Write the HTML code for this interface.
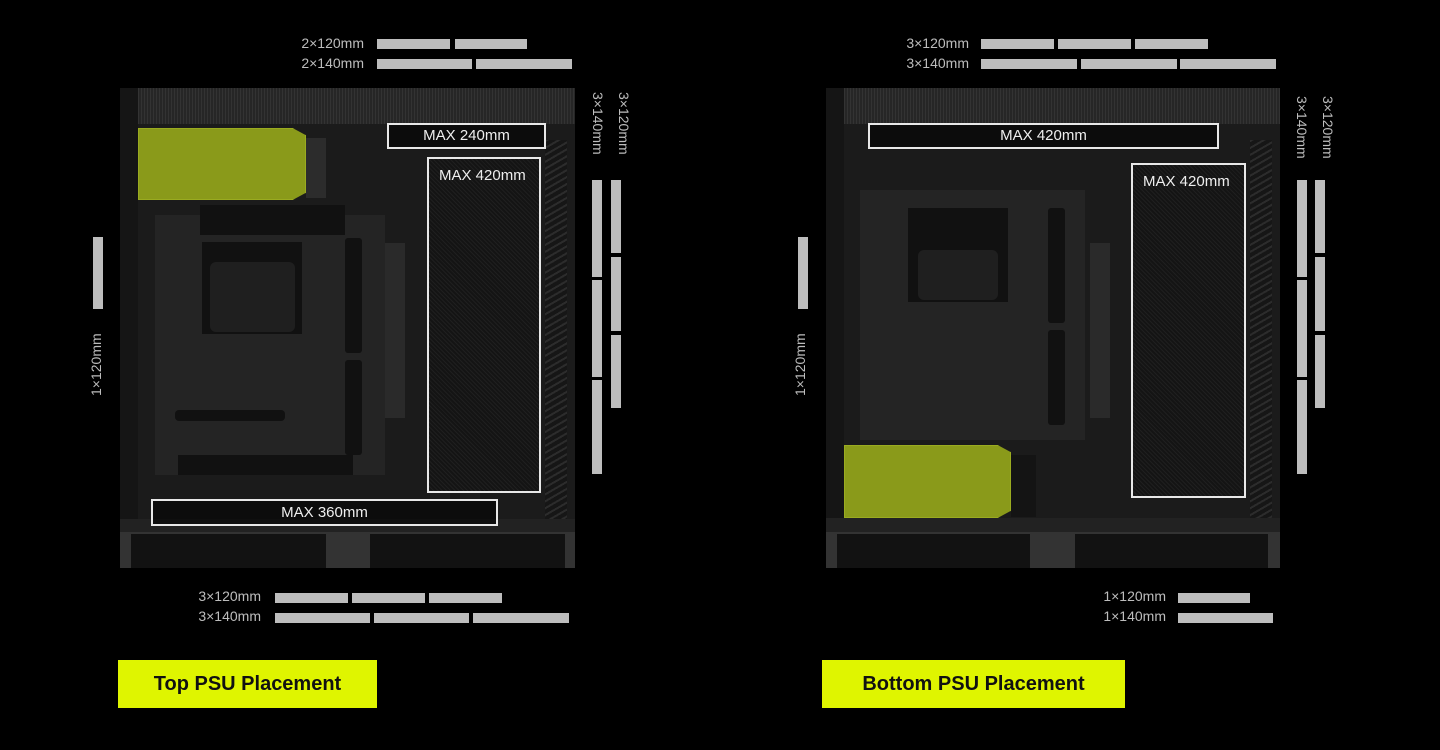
<!DOCTYPE html>
<html><head><meta charset="utf-8"><style>
*{margin:0;padding:0;box-sizing:border-box}
body{width:1440px;height:750px;background:#000;position:relative;overflow:hidden;font-family:"Liberation Sans",sans-serif}
div{position:absolute}
.bar{background:#bdbdbd}
.lbl{color:#bdbdbd;font-size:14px;line-height:16px;white-space:nowrap}
.rl{transform-origin:0 0;transform:rotate(90deg)}
.rr{transform-origin:0 0;transform:rotate(-90deg)}
.box{border:2px solid #e8e8e8;color:#eee;font-size:15px;text-align:center;background:rgba(0,0,0,.55)}
.btn{background:#dff500;color:#111;font-weight:bold;font-size:20px;text-align:center;line-height:48px}
.case{background:#1b1b1b}
.mesh{background:#2b2b2b;background-image:repeating-linear-gradient(90deg,#333 0 1px,#262626 1px 3px)}
.dark{background:#111}
.panel{background:#242424}
.psu{background:#8a9a1a;border:1px solid #9aab20}
.foot{background:#333}
.fan{background:#121212}
.vm{background:#161616;background-image:repeating-linear-gradient(45deg,#1f1f1f 0 1px,#141414 1px 3px)}
</style></head><body>

<!-- LEFT CASE -->
<div class="case" style="left:120px;top:88px;width:455px;height:445px"></div>
<div class="mesh" style="left:138px;top:88px;width:437px;height:36px"></div>
<div class="dark" style="left:120px;top:88px;width:18px;height:445px;background:#151515"></div>
<div class="panel" style="left:155px;top:215px;width:230px;height:260px"></div>
<div class="dark" style="left:202px;top:242px;width:100px;height:92px"></div>
<div style="left:210px;top:262px;width:85px;height:70px;background:#1f1f1f;border-radius:6px"></div>
<div class="dark" style="left:175px;top:410px;width:110px;height:11px;border-radius:4px"></div>
<div class="dark" style="left:178px;top:455px;width:175px;height:20px"></div>
<div class="dark" style="left:200px;top:205px;width:145px;height:30px"></div>
<div class="dark" style="left:345px;top:238px;width:17px;height:115px;border-radius:3px"></div>
<div class="dark" style="left:345px;top:360px;width:17px;height:95px;border-radius:3px"></div>
<div style="left:385px;top:243px;width:20px;height:175px;background:#2a2a2a"></div>
<div class="vm" style="left:427px;top:157px;width:114px;height:336px"></div>
<div style="left:545px;top:140px;width:22px;height:380px;background:repeating-linear-gradient(150deg,#2c2c2c 0 2px,#161616 2px 6px)"></div>
<div class="psu" style="left:138px;top:128px;width:168px;height:72px;clip-path:polygon(0 0,92% 0,100% 10%,100% 90%,92% 100%,0 100%)"></div>
<div style="left:306px;top:138px;width:20px;height:60px;background:#2c2c2c"></div>
<div style="left:120px;top:519px;width:455px;height:13px;background:#222"></div>
<div class="foot" style="left:120px;top:532px;width:455px;height:36px"></div>
<div class="fan" style="left:131px;top:534px;width:195px;height:34px"></div>
<div class="fan" style="left:370px;top:534px;width:195px;height:34px"></div>

<div class="box" style="left:387px;top:123px;width:159px;height:26px;line-height:22px">MAX 240mm</div>
<div class="box" style="left:427px;top:157px;width:114px;height:336px;background:transparent;text-align:left;padding:8px 0 0 10px;line-height:18px">MAX 420mm</div>
<div class="box" style="left:151px;top:499px;width:347px;height:27px;line-height:23px">MAX 360mm</div>

<div class="lbl" style="left:250px;top:35px;width:114px;text-align:right">2×120mm</div>
<div class="lbl" style="left:250px;top:55px;width:114px;text-align:right">2×140mm</div>
<div class="bar" style="left:377px;top:39px;width:73px;height:10px"></div>
<div class="bar" style="left:455px;top:39px;width:72px;height:10px"></div>
<div class="bar" style="left:377px;top:59px;width:95px;height:10px"></div>
<div class="bar" style="left:476px;top:59px;width:96px;height:10px"></div>

<div class="lbl rl" style="left:632px;top:92px">3×120mm</div>
<div class="lbl rl" style="left:606px;top:92px">3×140mm</div>
<div class="bar" style="left:592px;top:180px;width:10px;height:97px"></div>
<div class="bar" style="left:592px;top:280px;width:10px;height:97px"></div>
<div class="bar" style="left:592px;top:380px;width:10px;height:94px"></div>
<div class="bar" style="left:611px;top:180px;width:10px;height:73px"></div>
<div class="bar" style="left:611px;top:257px;width:10px;height:74px"></div>
<div class="bar" style="left:611px;top:335px;width:10px;height:73px"></div>

<div class="bar" style="left:93px;top:237px;width:10px;height:72px"></div>
<div class="lbl rr" style="left:88px;top:396px">1×120mm</div>

<div class="lbl" style="left:150px;top:588px;width:111px;text-align:right">3×120mm</div>
<div class="lbl" style="left:150px;top:608px;width:111px;text-align:right">3×140mm</div>
<div class="bar" style="left:275px;top:593px;width:73px;height:10px"></div>
<div class="bar" style="left:352px;top:593px;width:73px;height:10px"></div>
<div class="bar" style="left:429px;top:593px;width:73px;height:10px"></div>
<div class="bar" style="left:275px;top:613px;width:95px;height:10px"></div>
<div class="bar" style="left:374px;top:613px;width:95px;height:10px"></div>
<div class="bar" style="left:473px;top:613px;width:96px;height:10px"></div>

<div class="btn" style="left:118px;top:660px;width:259px;height:48px">Top PSU Placement</div>

<!-- RIGHT CASE -->
<div class="case" style="left:826px;top:88px;width:454px;height:445px"></div>
<div class="mesh" style="left:844px;top:88px;width:436px;height:36px"></div>
<div class="dark" style="left:826px;top:88px;width:18px;height:445px;background:#151515"></div>
<div class="panel" style="left:860px;top:190px;width:225px;height:250px"></div>
<div class="dark" style="left:908px;top:208px;width:100px;height:94px"></div>
<div style="left:918px;top:250px;width:80px;height:50px;background:#1f1f1f;border-radius:6px"></div>
<div class="dark" style="left:1048px;top:208px;width:17px;height:115px;border-radius:3px"></div>
<div class="dark" style="left:1048px;top:330px;width:17px;height:95px;border-radius:3px"></div>
<div style="left:1090px;top:243px;width:20px;height:175px;background:#2a2a2a"></div>
<div class="vm" style="left:1131px;top:163px;width:115px;height:335px"></div>
<div style="left:1250px;top:140px;width:22px;height:380px;background:repeating-linear-gradient(150deg,#2c2c2c 0 2px,#161616 2px 6px)"></div>
<div class="psu" style="left:844px;top:445px;width:167px;height:73px;clip-path:polygon(0 0,92% 0,100% 10%,100% 90%,92% 100%,0 100%)"></div>
<div style="left:1011px;top:455px;width:25px;height:62px;background:#141414"></div>
<div style="left:826px;top:518px;width:454px;height:14px;background:#222"></div>
<div class="foot" style="left:826px;top:532px;width:454px;height:36px"></div>
<div class="fan" style="left:837px;top:534px;width:193px;height:34px"></div>
<div class="fan" style="left:1075px;top:534px;width:193px;height:34px"></div>

<div class="box" style="left:868px;top:123px;width:351px;height:26px;line-height:22px">MAX 420mm</div>
<div class="box" style="left:1131px;top:163px;width:115px;height:335px;background:transparent;text-align:left;padding:8px 0 0 10px;line-height:18px">MAX 420mm</div>

<div class="lbl" style="left:855px;top:35px;width:114px;text-align:right">3×120mm</div>
<div class="lbl" style="left:855px;top:55px;width:114px;text-align:right">3×140mm</div>
<div class="bar" style="left:981px;top:39px;width:73px;height:10px"></div>
<div class="bar" style="left:1058px;top:39px;width:73px;height:10px"></div>
<div class="bar" style="left:1135px;top:39px;width:73px;height:10px"></div>
<div class="bar" style="left:981px;top:59px;width:96px;height:10px"></div>
<div class="bar" style="left:1081px;top:59px;width:96px;height:10px"></div>
<div class="bar" style="left:1180px;top:59px;width:96px;height:10px"></div>

<div class="lbl rl" style="left:1336px;top:96px">3×120mm</div>
<div class="lbl rl" style="left:1310px;top:96px">3×140mm</div>
<div class="bar" style="left:1297px;top:180px;width:10px;height:97px"></div>
<div class="bar" style="left:1297px;top:280px;width:10px;height:97px"></div>
<div class="bar" style="left:1297px;top:380px;width:10px;height:94px"></div>
<div class="bar" style="left:1315px;top:180px;width:10px;height:73px"></div>
<div class="bar" style="left:1315px;top:257px;width:10px;height:74px"></div>
<div class="bar" style="left:1315px;top:335px;width:10px;height:73px"></div>

<div class="bar" style="left:798px;top:237px;width:10px;height:72px"></div>
<div class="lbl rr" style="left:792px;top:396px">1×120mm</div>

<div class="lbl" style="left:1050px;top:588px;width:116px;text-align:right">1×120mm</div>
<div class="lbl" style="left:1050px;top:608px;width:116px;text-align:right">1×140mm</div>
<div class="bar" style="left:1178px;top:593px;width:72px;height:10px"></div>
<div class="bar" style="left:1178px;top:613px;width:95px;height:10px"></div>

<div class="btn" style="left:822px;top:660px;width:303px;height:48px">Bottom PSU Placement</div>

</body></html>
